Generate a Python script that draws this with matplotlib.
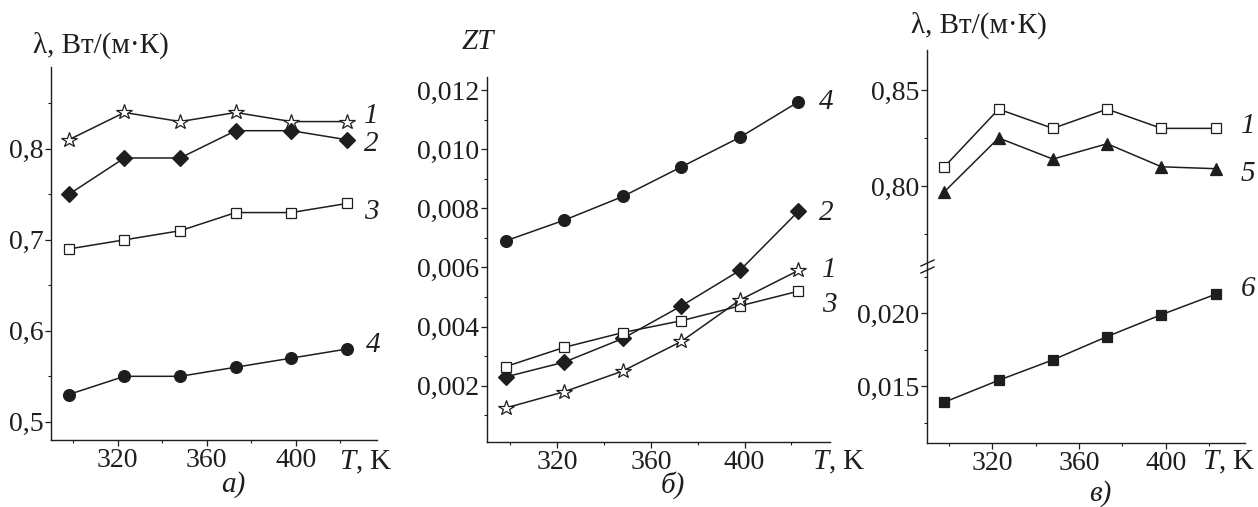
import matplotlib
matplotlib.use('Agg')
import matplotlib.pyplot as plt
from matplotlib.ticker import FuncFormatter, MultipleLocator, FixedLocator
from matplotlib.lines import Line2D

plt.rcParams['font.family'] = ['Liberation Serif', 'DejaVu Serif']
plt.rcParams['mathtext.fontset'] = 'custom'
plt.rcParams['mathtext.it'] = 'Liberation Serif:italic'
plt.rcParams['mathtext.rm'] = 'Liberation Serif'

# ---------------- data ----------------
T = [298, 323, 348, 373, 398, 423]
# panel a) thermal conductivity, W/(m K)
lam1_a = [0.81, 0.84, 0.83, 0.84, 0.83, 0.83]
lam2_a = [0.75, 0.79, 0.79, 0.82, 0.82, 0.81]
lam3_a = [0.69, 0.70, 0.71, 0.73, 0.73, 0.74]
lam4_a = [0.53, 0.55, 0.55, 0.56, 0.57, 0.58]
# panel б) ZT
zt1 = [0.00125, 0.0018, 0.0025, 0.0035, 0.0049, 0.0059]
zt2 = [0.0023, 0.0028, 0.0036, 0.0047, 0.0059, 0.0079]
zt3 = [0.00265, 0.0033, 0.0038, 0.0042, 0.0047, 0.0052]
zt4 = [0.0069, 0.0076, 0.0084, 0.0094, 0.0104, 0.0116]
# panel в) thermal conductivity
lam1_c = [0.81, 0.84, 0.83, 0.84, 0.83, 0.83]
lam5_c = [0.797, 0.825, 0.814, 0.822, 0.810, 0.809]
lam6_c = [0.0139, 0.0154, 0.0168, 0.0184, 0.0199, 0.0213]

x_major = [320, 360, 400]
x_minor = [300, 340, 380, 420]

INK = '#1e1e1e'
FS = 20
FL = 21
W, H = 1258, 507

fig = plt.figure(figsize=(W / 100, H / 100), dpi=100)
fig.patch.set_facecolor('white')


def px_axes(l, t, r, b):
    return fig.add_axes([l / W, (H - b) / H, (r - l) / W, (b - t) / H])


def comma(nd):
    return FuncFormatter(lambda v, p: f"{v:.{nd}f}".replace('.', ','))


def style(ax, xaxis=True):
    for s in ['top', 'right']:
        ax.spines[s].set_visible(False)
    for s in ['left', 'bottom']:
        ax.spines[s].set_color(INK)
        ax.spines[s].set_linewidth(1.0)
    ax.tick_params(which='major', direction='out', length=4, width=0.9,
                   colors=INK, labelsize=FS, pad=1.5)
    ax.tick_params(which='minor', direction='out', length=2.5, width=0.8,
                   colors=INK)
    ax.set_xlim(290, 436.5)
    if xaxis:
        ax.xaxis.set_major_locator(FixedLocator(x_major))
        ax.xaxis.set_minor_locator(FixedLocator(x_minor))
    ax.set_facecolor('none')


line_kw = dict(color=INK, lw=1.1)


def plot_series(ax, y, marker, filled, ms):
    ax.plot(T, y, marker=marker, markersize=ms,
            markerfacecolor=INK if filled else 'white',
            markeredgecolor=INK, markeredgewidth=0.9, clip_on=False, **line_kw)


def label(ax, y, txt, dx=14, dy=0):
    ax.annotate(txt, (T[-1], y), xytext=(dx, dy), textcoords='offset points',
                fontsize=FL, style='italic', color=INK, va='center',
                ha='left', annotation_clip=False)


# ---------------- panel a ----------------
ax_a = px_axes(51, 67, 377, 440)
style(ax_a)
ax_a.set_ylim(0.48, 0.89)
ax_a.yaxis.set_major_locator(MultipleLocator(0.1))
ax_a.yaxis.set_minor_locator(MultipleLocator(0.05))
ax_a.yaxis.set_major_formatter(comma(1))
plot_series(ax_a, lam1_a, '*', False, 11.5)
plot_series(ax_a, lam2_a, 'D', True, 8)
plot_series(ax_a, lam3_a, 's', False, 7.5)
plot_series(ax_a, lam4_a, 'o', True, 8.5)
label(ax_a, lam1_a[-1], '1', dx=12, dy=4)
label(ax_a, lam2_a[-1], '2', dx=12, dy=-3)
label(ax_a, lam3_a[-1], '3', dx=12, dy=-6)
label(ax_a, lam4_a[-1], '4', dx=14, dy=3)

# ---------------- panel б ----------------
ax_b = px_axes(487, 77, 830, 442)
style(ax_b)
ax_b.set_ylim(0.0001, 0.01244)
ax_b.yaxis.set_major_locator(MultipleLocator(0.002))
ax_b.yaxis.set_minor_locator(MultipleLocator(0.001))
ax_b.yaxis.set_major_formatter(comma(3))
plot_series(ax_b, zt4, 'o', True, 8.5)
plot_series(ax_b, zt2, 'D', True, 8)
plot_series(ax_b, zt3, 's', False, 7.5)
plot_series(ax_b, zt1, '*', False, 11.5)
label(ax_b, zt4[-1], '4', dx=15, dy=0)
label(ax_b, zt2[-1], '2', dx=15, dy=-1)
label(ax_b, zt1[-1], '1', dx=17, dy=0)
label(ax_b, zt3[-1], '3', dx=17, dy=-10)

# ---------------- panel в ----------------
ax_cl = px_axes(927, 268, 1245, 443)
style(ax_cl)
ax_cl.set_ylim(0.0111, 0.0231)
ax_cl.yaxis.set_major_locator(MultipleLocator(0.005))
ax_cl.yaxis.set_minor_locator(MultipleLocator(0.0025))
ax_cl.yaxis.set_major_formatter(comma(3))
plot_series(ax_cl, lam6_c, 's', True, 7.5)
label(ax_cl, lam6_c[-1], '6', dx=18, dy=4)

ax_cu = px_axes(927, 50, 1245, 268)
style(ax_cu, xaxis=False)
ax_cu.spines['bottom'].set_visible(False)
ax_cu.set_xticks([])
ax_cu.set_ylim(0.7573, 0.8708)
ax_cu.yaxis.set_major_locator(MultipleLocator(0.05))
ax_cu.yaxis.set_minor_locator(MultipleLocator(0.025))
ax_cu.yaxis.set_major_formatter(comma(2))
plot_series(ax_cu, lam1_c, 's', False, 7.5)
plot_series(ax_cu, lam5_c, '^', True, 8.5)
label(ax_cu, lam1_c[-1], '1', dx=18, dy=2)
label(ax_cu, lam5_c[-1], '5', dx=18, dy=-4)

# axis break marks
for yb in (263, 270):
    fig.add_artist(Line2D([921 / W, 934 / W], [(H - yb - 3) / H, (H - yb + 3) / H],
                          color=INK, lw=1.0))

# ---------------- text ----------------
fig.text(33 / W, (H - 45) / H, 'λ, Вт/(м·К)', fontsize=FL, color=INK,
         ha='left', va='center')
fig.text(478 / W, (H - 42) / H, 'ZT', fontsize=FL, style='italic', color=INK,
         ha='center', va='center')
fig.text(911 / W, (H - 25) / H, 'λ, Вт/(м·К)', fontsize=FL, color=INK,
         ha='left', va='center')

for xt in (339, 812, 1202):
    fig.text(xt / W, (H - 462) / H, '$T$, K', fontsize=FL, color=INK,
             ha='left', va='center')

for xt, yt, s in ((233, 485, 'а)'), (673, 485, 'б)'), (1100, 494, 'в)')):
    fig.text(xt / W, (H - yt) / H, s, fontsize=FL, style='italic', color=INK,
             ha='center', va='center')

fig.savefig('out.png', dpi=100, facecolor='white')
